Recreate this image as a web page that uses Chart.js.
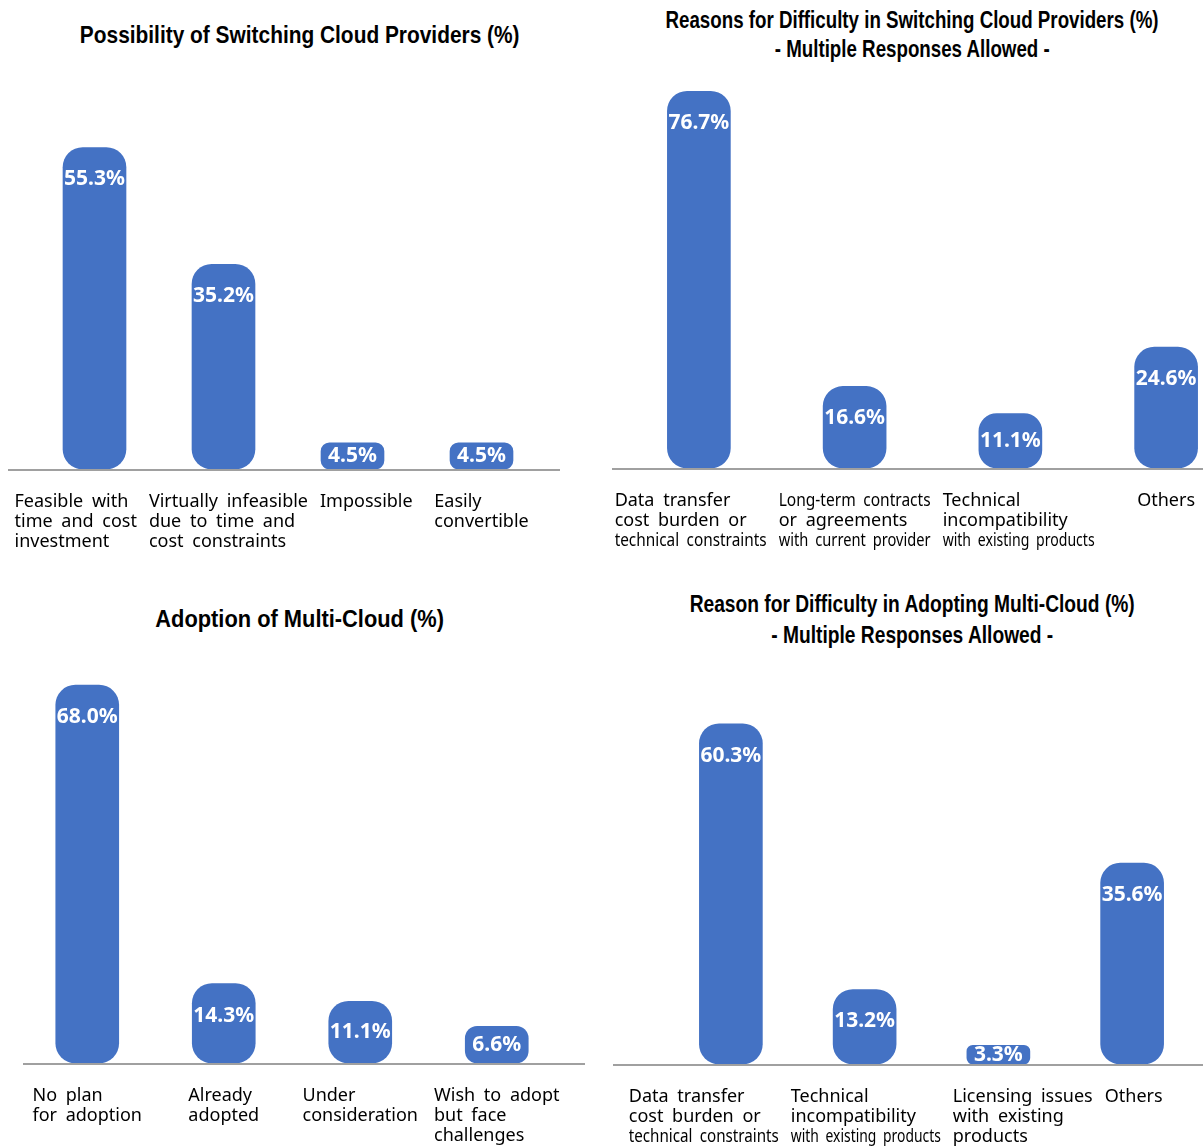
<!DOCTYPE html>
<html>
<head>
<meta charset="utf-8">
<title>Cloud provider survey</title>
<script src="https://cdn.jsdelivr.net/npm/chart.js@4.4.1/dist/chart.umd.min.js"></script>
<style>
    html, body { margin: 0; padding: 0; background: #fff; width: 1203px; height: 1147px; overflow: hidden; }
    .title {
        position: absolute; width: 700px; text-align: center; white-space: nowrap; color: #000;
        font-family: "Liberation Sans", Arial, sans-serif; font-weight: bold; font-size: 24px;
    }
    .title span { display: inline-block; }
    .panel { position: absolute; }
</style>
</head>
<body>
<div class="title" style="left:-50px;top:20px;line-height:30px"><span style="transform:scaleX(0.87)">Possibility of Switching Cloud Providers (%)</span></div>
<div class="title" style="left:562px;top:5px;line-height:29px"><span style="transform:scaleX(0.78)">Reasons for Difficulty in Switching Cloud Providers (%)</span><br><span style="transform:scaleX(0.78)">- Multiple Responses Allowed -</span></div>
<div class="title" style="left:-50px;top:604px;line-height:30px"><span style="transform:scaleX(0.91)">Adoption of Multi-Cloud (%)</span></div>
<div class="title" style="left:562px;top:588px;line-height:31px"><span style="transform:scaleX(0.80)">Reason for Difficulty in Adopting Multi-Cloud (%)</span><br><span style="transform:scaleX(0.80)">- Multiple Responses Allowed -</span></div>

<div class="panel" style="left:0;top:60px;width:600px;height:500px"><canvas id="switchChart"></canvas></div>
<div class="panel" style="left:612px;top:60px;width:640px;height:500px"><canvas id="switchReasonChart"></canvas></div>
<div class="panel" style="left:0;top:650px;width:600px;height:497px"><canvas id="multiChart"></canvas></div>
<div class="panel" style="left:612px;top:650px;width:591px;height:497px"><canvas id="multiReasonChart"></canvas></div>

<script>
// Data
const switchLabels = [['Feasible with', 'time and cost', 'investment'], ['Virtually infeasible', 'due to time and', 'cost constraints'], ['Impossible'], ['Easily', 'convertible']];
const switchValues = [55.3, 35.2, 4.5, 4.5];

const switchReasonLabels = [['Data transfer', 'cost burden or', 'technical constraints'], ['Long-term contracts', 'or agreements', 'with current provider'], ['Technical', 'incompatibility', 'with existing products'], ['Others']];
const switchReasonValues = [76.7, 16.6, 11.1, 24.6];

const multiLabels = [['No plan', 'for adoption'], ['Already', 'adopted'], ['Under', 'consideration'], ['Wish to adopt', 'but face', 'challenges']];
const multiValues = [68.0, 14.3, 11.1, 6.6];

const multiReasonLabels = [['Data transfer', 'cost burden or', 'technical constraints'], ['Technical', 'incompatibility', 'with existing products'], ['Licensing issues', 'with existing', 'products'], ['Others']];
const multiReasonValues = [60.3, 13.2, 3.3, 35.6];

const BAR_COLOR = '#4472c4';

// Baseline, white value labels inside the bars, left-aligned category labels
const barDecor = {
    id: 'barDecor',
    beforeDatasetsDraw(chart, args, opts) {
        const { ctx } = chart;
        const base = chart.scales.y.getPixelForValue(0);
        ctx.save();
        ctx.strokeStyle = '#a0a0a0';
        ctx.lineWidth = 2;
        ctx.beginPath();
        ctx.moveTo(opts.lineFrom, base + 1);
        ctx.lineTo(opts.lineTo, base + 1);
        ctx.stroke();
        ctx.restore();
    },
    afterDatasetsDraw(chart, args, opts) {
        const { ctx } = chart;
        const xScale = chart.scales.x;
        const base = chart.scales.y.getPixelForValue(0);
        const values = chart.data.datasets[0].data;
        ctx.save();

        ctx.font = 'bold 21px "Noto Sans"';
        ctx.fillStyle = '#fff';
        ctx.textAlign = 'center';
        ctx.textBaseline = 'middle';
        chart.getDatasetMeta(0).data.forEach((bar, i) => {
            const ty = Math.min(bar.y + 32, (bar.y + base) / 2);
            ctx.fillText(values[i].toFixed(1) + '%', bar.x, ty);
        });

        // label blocks: centred under the bar, lines left-aligned, pushed apart if they collide
        ctx.font = '18px "Noto Sans"';
        ctx.wordSpacing = '4px';
        ctx.fillStyle = '#000';
        ctx.textAlign = 'left';
        const labels = chart.data.labels;
        const widths = labels.map(lines => Math.min(opts.maxWidth, Math.max(...lines.map(l => ctx.measureText(l).width))));
        const lefts = labels.map((lines, i) => xScale.getPixelForValue(i) - widths[i] / 2);
        const gap = 12;
        for (let k = 0; k < 20; k++) {
            for (let i = 0; i < lefts.length - 1; i++) {
                const over = lefts[i] + widths[i] + gap - lefts[i + 1];
                if (over > 0) {
                    lefts[i] -= over / 2;
                    lefts[i + 1] += over / 2;
                }
            }
        }
        labels.forEach((lines, i) => {
            lines.forEach((line, j) => {
                ctx.fillText(line, lefts[i], base + 33 + j * 20, opts.maxWidth);
            });
        });
        ctx.restore();
    }
};

function makeChart(id, labels, values, yMax, padding, decor) {
    return new Chart(document.getElementById(id), {
        type: 'bar',
        data: {
            labels: labels,
            datasets: [{
                data: values,
                backgroundColor: BAR_COLOR,
                borderSkipped: false,
                borderRadius: c => {
                    const y = c.chart.scales.y;
                    const h = y.getPixelForValue(0) - y.getPixelForValue(c.raw);
                    return Math.min(20, h / 3);
                },
                barThickness: 63
            }]
        },
        options: {
            responsive: true,
            maintainAspectRatio: false,
            animation: false,
            layout: { padding: padding },
            scales: {
                x: { display: false },
                y: { display: false, min: 0, max: yMax }
            },
            plugins: {
                legend: { display: false },
                tooltip: { enabled: false },
                barDecor: decor
            }
        },
        plugins: [barDecor]
    });
}

document.addEventListener('DOMContentLoaded', () => {
    makeChart('switchChart', switchLabels, switchValues, 70,
        { left: 30, right: 54, top: 2, bottom: 91 }, { lineFrom: 8, lineTo: 560, maxWidth: 165 });
    makeChart('switchReasonChart', switchReasonLabels, switchReasonValues, 80,
        { left: 9, right: 8, top: 15, bottom: 92 }, { lineFrom: 0, lineTo: 591, maxWidth: 152 });
    makeChart('multiChart', multiLabels, multiValues, 70,
        { left: 19, right: 35, top: 24, bottom: 84 }, { lineFrom: 23, lineTo: 585, maxWidth: 165 });
    makeChart('multiReasonChart', multiReasonLabels, multiReasonValues, 70,
        { left: 52, right: 4, top: 19, bottom: 83 }, { lineFrom: 1, lineTo: 591, maxWidth: 150 });
});
</script>
</body>
</html>
